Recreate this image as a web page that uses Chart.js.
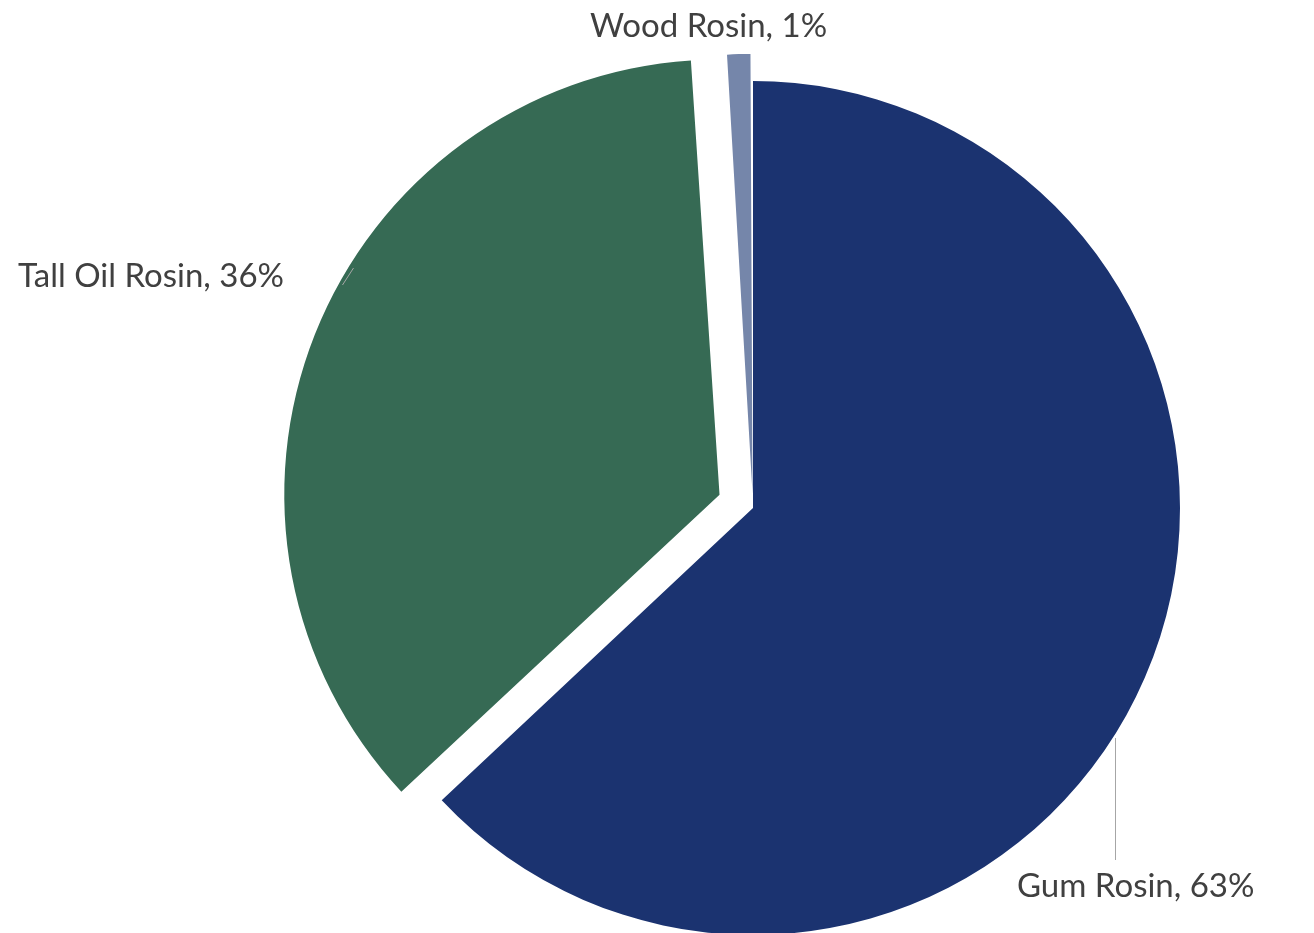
<!DOCTYPE html>
<html>
<head>
<meta charset="utf-8">
<script src="https://cdn.jsdelivr.net/npm/chart.js@4"></script>
<style>
  html, body { margin: 0; padding: 0; background: #fff; overflow: hidden; }
  canvas { display: block; }
</style>
</head>
<body>
<canvas id="chart" width="1314" height="933"></canvas>
<script>
const labels = ["Gum Rosin", "Tall Oil Rosin", "Wood Rosin"];
const shares = [63, 36, 1];
const colors = ["#1b3370", "#366a54", "#7586aa"];
const offsets = [0, 144, 56];

// where each data label sits, plus an optional leader line
const labelSpots = [
  { x: 1017, y: 897, line: [1115, 738, 1115, 860] },
  { x: 18, y: 287, line: [342, 285, 353, 268] },
  { x: 590, y: 37, line: null },
];

const pieLabels = {
  id: "pieLabels",
  afterDatasetsDraw(chart) {
    const ctx = chart.ctx;
    ctx.save();
    ctx.font = "33px Lato";
    ctx.fillStyle = "#404040";
    ctx.textBaseline = "alphabetic";
    ctx.textAlign = "left";
    labelSpots.forEach((spot, i) => {
      if (spot.line) {
        ctx.strokeStyle = "#a6a6a6";
        ctx.lineWidth = 1;
        ctx.beginPath();
        ctx.moveTo(spot.line[0] + 0.5, spot.line[1]);
        ctx.lineTo(spot.line[2] + 0.5, spot.line[3]);
        ctx.stroke();
      }
      ctx.fillText(`${labels[i]}, ${shares[i]}%`, spot.x, spot.y);
    });
    ctx.restore();
  },
};

new Chart(document.getElementById("chart"), {
  type: "pie",
  data: {
    labels: labels,
    datasets: [
      {
        data: shares,
        backgroundColor: colors,
        borderWidth: 0,
        offset: offsets,
        clip: false,
      },
    ],
  },
  options: {
    responsive: false,
    animation: false,
    radius: 427,
    layout: { padding: { left: 192, top: 83, right: 0, bottom: 0 } },
    plugins: {
      legend: { display: false },
      tooltip: { enabled: false },
    },
  },
  plugins: [pieLabels],
});
</script>
</body>
</html>
